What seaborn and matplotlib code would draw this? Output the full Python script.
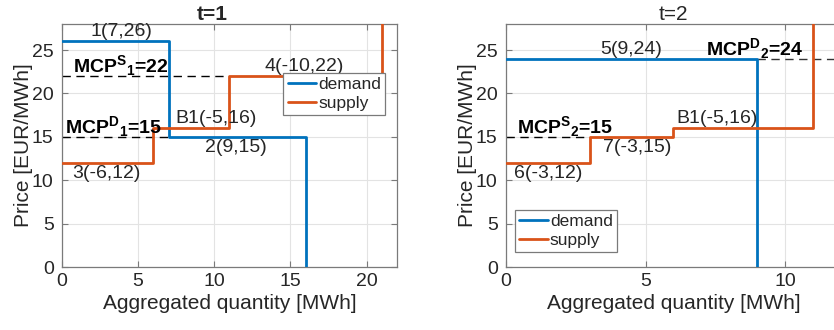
import numpy as np
import pandas as pd
import matplotlib
matplotlib.use("Agg")
import matplotlib.pyplot as plt
import seaborn as sns

# ---------------- data ----------------
# period t=1
d1_qty = [7, 9]
d1_price = [26, 15]
d1_labels = ["1(7,26)", "2(9,15)"]
s1_qty = [6, 5, 10]
s1_price = [12, 16, 22]
s1_labels = ["3(-6,12)", "B1(-5,16)", "4(-10,22)"]
mcp_s1 = 22
mcp_d1 = 15

# period t=2
d2_qty = [9]
d2_price = [24]
d2_labels = ["5(9,24)"]
s2_qty = [3, 3, 5]
s2_price = [12, 15, 16]
s2_labels = ["6(-3,12)", "7(-3,15)", "B1(-5,16)"]
mcp_s2 = 15
mcp_d2 = 24

x_ticks_1 = [0, 5, 10, 15, 20]
x_ticks_2 = [0, 5, 10]
y_ticks = [0, 5, 10, 15, 20, 25]

BLUE = "#0072BD"
ORANGE = "#D95319"

sns.set_theme(style="white")
plt.rcParams["font.family"] = ["Liberation Sans", "DejaVu Sans"]
plt.rcParams["mathtext.fontset"] = "custom"
plt.rcParams["mathtext.rm"] = "Liberation Sans"
plt.rcParams["mathtext.bf"] = "Liberation Sans:bold"
plt.rcParams["mathtext.it"] = "Liberation Sans:italic"


def step_points(qty, price, end_y):
    xs, ys = [], []
    cum = 0
    for q, p in zip(qty, price):
        xs += [cum, cum + q]
        ys += [p, p]
        cum += q
    xs.append(cum)
    ys.append(end_y)
    return xs, ys


def build_df(dq, dp, sq, sp):
    dx, dy = step_points(dq, dp, 0)
    sx, sy = step_points(sq, sp, 40)
    return pd.DataFrame({
        "x": dx + sx,
        "y": dy + sy,
        "curve": ["demand"] * len(dx) + ["supply"] * len(sx),
    })


fig = plt.figure(figsize=(8.34, 3.30), dpi=100)
ax1 = fig.add_axes([0.0743, 0.1909, 0.4017, 0.7364])
ax2 = fig.add_axes([0.6067, 0.1909, 0.4017, 0.7364])

EDGE = "#7a7a7a"
TXT = "#262626"


def style_axes(ax, xmax, xticks):
    ax.set_xlim(0, xmax)
    ax.set_ylim(0, 28)
    ax.set_xticks(xticks)
    ax.set_yticks(y_ticks)
    ax.grid(True, color="#e3e3e3", linewidth=0.8)
    ax.set_axisbelow(True)
    for sp in ax.spines.values():
        sp.set_visible(True)
        sp.set_color(EDGE)
        sp.set_linewidth(0.9)
    ax.tick_params(axis="both", which="major", direction="in", length=4,
                   width=0.8, color=EDGE, labelsize=14, labelcolor=TXT,
                   top=True, right=True, bottom=True, left=True)
    ax.tick_params(axis="x", pad=4)
    ax.tick_params(axis="y", pad=6)
    ax.set_xlabel("Aggregated quantity [MWh]", fontsize=15, color=TXT, labelpad=3)
    ax.set_ylabel("Price [EUR/MWh]", fontsize=15, color=TXT, labelpad=-1)


def draw(ax, df):
    sns.lineplot(data=df, x="x", y="y", hue="curve", sort=False, estimator=None,
                 palette={"demand": BLUE, "supply": ORANGE}, linewidth=2.0,
                 ax=ax, legend=True, zorder=3)


def mcp_text(ax, x, y, kind, t, val):
    ax.text(x, y, r"$\mathbf{MCP^{%s}{}_{%d}}$=%d" % (kind, t, val), fontsize=14,
            fontweight="bold", ha="left", va="center", color="black")


def make_legend(ax, **kw):
    leg = ax.legend(fontsize=12.5, frameon=True, fancybox=False, edgecolor=EDGE,
                    framealpha=1, handlelength=1.65, handletextpad=0.1,
                    borderpad=0.25, labelspacing=0.2, borderaxespad=0, **kw)
    leg.get_frame().set_linewidth(0.9)
    for t in leg.get_texts():
        t.set_color(TXT)
    return leg


fs = 14

# ---------- t=1 ----------
df1 = build_df(d1_qty, d1_price, s1_qty, s1_price)
draw(ax1, df1)
style_axes(ax1, 22, x_ticks_1)
s1_cum = np.cumsum([0] + s1_qty)
d1_cum = np.cumsum([0] + d1_qty)
ax1.hlines(mcp_s1, 0, s1_cum[s1_price.index(mcp_s1)], colors="black",
           linestyles=(0, (6, 4)), linewidth=1.0, zorder=2)
ax1.hlines(mcp_d1, 0, d1_cum[d1_price.index(mcp_d1)], colors="black",
           linestyles=(0, (6, 4)), linewidth=1.0, zorder=2)
ax1.set_title("t=1", fontsize=15, fontweight="bold", color=TXT, x=0.45, pad=3)

ax1.text(3.9, 26.1, d1_labels[0], fontsize=fs, ha="center", va="bottom", color=TXT)
ax1.text(11.4, 14.7, d1_labels[1], fontsize=fs, ha="center", va="top", color=TXT)
ax1.text(2.9, 11.7, s1_labels[0], fontsize=fs, ha="center", va="top", color=TXT)
ax1.text(10.1, 16.1, s1_labels[1], fontsize=fs, ha="center", va="bottom", color=TXT)
ax1.text(15.9, 22.1, s1_labels[2], fontsize=fs, ha="center", va="bottom", color=TXT)
mcp_text(ax1, 0.72, 23.2, "S", 1, mcp_s1)
mcp_text(ax1, 0.22, 16.2, "D", 1, mcp_d1)

make_legend(ax1, loc="upper right", bbox_to_anchor=(0.965, 0.80))

# ---------- t=2 ----------
df2 = build_df(d2_qty, d2_price, s2_qty, s2_price)
draw(ax2, df2)
style_axes(ax2, 12, x_ticks_2)
s2_cum = np.cumsum([0] + s2_qty)
d2_cum = np.cumsum([0] + d2_qty)
ax2.hlines(mcp_s2, 0, s2_cum[s2_price.index(mcp_s2)], colors="black",
           linestyles=(0, (6, 4)), linewidth=1.0, zorder=2)
ax2.hlines(mcp_d2, d2_cum[-1], 12, colors="#333333",
           linestyles=(0, (6, 4)), linewidth=1.0, zorder=2)
ax2.set_title("t=2", fontsize=15, color=TXT, pad=3)

ax2.text(4.5, 24.1, d2_labels[0], fontsize=fs, ha="center", va="bottom", color=TXT)
ax2.text(1.5, 11.7, s2_labels[0], fontsize=fs, ha="center", va="top", color=TXT)
ax2.text(4.7, 14.7, s2_labels[1], fontsize=fs, ha="center", va="top", color=TXT)
ax2.text(7.55, 16.1, s2_labels[2], fontsize=fs, ha="center", va="bottom", color=TXT)
mcp_text(ax2, 0.39, 16.2, "S", 2, mcp_s2)
mcp_text(ax2, 7.17, 25.2, "D", 2, mcp_d2)

make_legend(ax2, loc="lower left", bbox_to_anchor=(0.027, 0.06))

fig.savefig("out.png", dpi=100)
